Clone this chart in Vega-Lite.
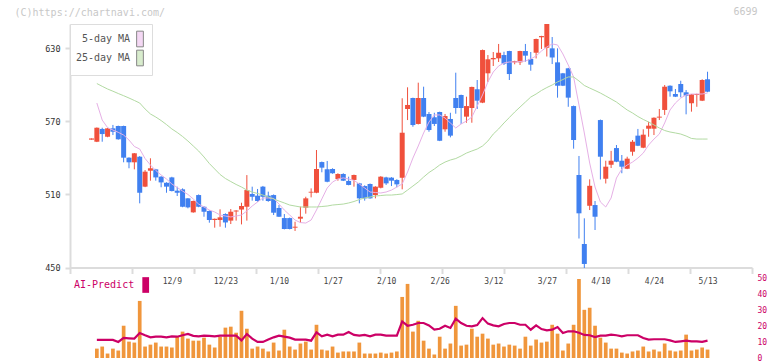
{
  "$schema": "https://vega.github.io/schema/vega-lite/v6.json",
  "width": 682,
  "height": 334.5,
  "autosize": {"type": "none"},
  "padding": {"left": 70, "top": 24, "right": 20, "bottom": 2.5},
  "background": "white",
  "config": {
    "view": {"stroke": null},
    "font": "DejaVu Sans Mono",
    "axis": {"labelFont": "DejaVu Sans Mono", "titleFont": "DejaVu Sans Mono", "domainColor": "#dcdcdc", "tickColor": "#dcdcdc", "domainWidth": 2, "tickWidth": 2, "grid": false},
    "legend": {"labelFont": "DejaVu Sans Mono"}
  },
  "datasets": {
    "d": [
      {"i":0,"o":555,"h":556,"l":555,"c":556},
      {"i":1,"o":553.3,"h":565,"l":553,"c":564.8,"v":5.9,"a":11.4,"m5":585.1,"m25":601.1},
      {"i":2,"o":563.8,"h":564.8,"l":553.3,"c":559.6,"v":7.2,"a":11.4,"m5":571.1,"m25":598.8},
      {"i":3,"o":557.4,"h":564.5,"l":557,"c":564.3,"v":2.8,"a":11.4,"m5":564.9,"m25":596.6},
      {"i":4,"o":564.3,"h":567.1,"l":558.8,"c":561.5,"v":5.9,"a":11.4,"m5":562.9,"m25":594.8},
      {"i":5,"o":566.2,"h":566.5,"l":555,"c":555.3,"v":4.7,"a":10.1,"m5":561,"m25":592.9},
      {"i":6,"o":566.2,"h":566.5,"l":536.4,"c":540.2,"v":20.3,"a":12.6,"m5":558.8,"m25":591.1},
      {"i":7,"o":540.2,"h":540.5,"l":531.5,"c":536.4,"v":10.3,"a":12.4,"m5":554.7,"m25":589.2},
      {"i":8,"o":536.4,"h":544,"l":530.6,"c":543.8,"v":9.7,"a":12.2,"m5":549.4,"m25":587.2},
      {"i":9,"o":541,"h":541.5,"l":502.7,"c":511.4,"v":35.9,"a":15.7,"m5":547.3,"m25":585.1},
      {"i":10,"o":516.4,"h":530,"l":516,"c":528.7,"v":7.2,"a":14.3,"m5":539.5,"m25":580.2},
      {"i":11,"o":529.5,"h":539.7,"l":521.3,"c":531.5,"v":8.4,"a":13.0,"m5":534.2,"m25":576.1},
      {"i":12,"o":530.6,"h":531,"l":521.3,"c":524,"v":9.7,"a":13.4,"m5":529.7,"m25":573.6},
      {"i":13,"o":524.6,"h":525,"l":515.9,"c":519.9,"v":7.2,"a":13.4,"m5":526,"m25":570.7},
      {"i":14,"o":519.6,"h":520,"l":511.4,"c":516.4,"v":7.2,"a":13.0,"m5":522.7,"m25":567.4},
      {"i":15,"o":524,"h":524.5,"l":512.5,"c":512.8,"v":6.6,"a":13.6,"m5":518.6,"m25":563.8},
      {"i":16,"o":513.1,"h":516.4,"l":508.7,"c":511.4,"v":13.4,"a":13.4,"m5":515.7,"m25":560.9},
      {"i":17,"o":514.2,"h":515,"l":499.5,"c":499.9,"v":16.6,"a":14.3,"m5":512.8,"m25":557.6},
      {"i":18,"o":506.8,"h":507,"l":498.6,"c":499.4,"v":12.2,"a":15.1,"m5":510,"m25":553.9},
      {"i":19,"o":495.3,"h":505,"l":495,"c":504.6,"v":10.9,"a":13.9,"m5":506.3,"m25":549.8},
      {"i":20,"o":509.5,"h":510,"l":499.5,"c":499.9,"v":10.9,"a":13.6,"m5":502.1,"m25":545.7},
      {"i":21,"o":499.9,"h":500.2,"l":491.7,"c":495.8,"v":12.8,"a":14.1,"m5":499.7,"m25":540.8},
      {"i":22,"o":496.4,"h":497,"l":486.8,"c":489,"v":8.4,"a":13.9,"m5":497.2,"m25":535.4},
      {"i":23,"o":489,"h":490.2,"l":482.7,"c":490,"v":6.6,"a":13.6,"m5":495.6,"m25":530.9},
      {"i":24,"o":489,"h":497.8,"l":483.5,"c":491.2,"v":13.4,"a":14.1,"m5":493.1,"m25":526.4},
      {"i":25,"o":493.9,"h":494.5,"l":482.7,"c":487,"v":19.1,"a":14.1,"m5":492.3,"m25":523.1},
      {"i":26,"o":488.5,"h":498,"l":485.7,"c":495.8,"v":19.7,"a":14.1,"m5":491.5,"m25":520.6},
      {"i":27,"o":496,"h":497,"l":488.5,"c":496.8,"v":15.9,"a":14.1,"m5":492.3,"m25":518.2},
      {"i":28,"o":497.6,"h":503.2,"l":485.4,"c":500.5,"v":29.7,"a":11.1,"m5":493.1,"m25":516.1},
      {"i":29,"o":499.9,"h":525.9,"l":488.5,"c":513.6,"v":18.4,"a":15.1,"m5":496.4,"m25":513.6},
      {"i":30,"o":510.4,"h":516.4,"l":504.9,"c":508.1,"v":5.9,"a":12.2,"m5":500.5,"m25":512},
      {"i":31,"o":509,"h":514.5,"l":504,"c":504.6,"v":7.2,"a":10.1,"m5":503.8,"m25":510.8},
      {"i":32,"o":516.4,"h":517,"l":504.9,"c":508.1,"v":5.9,"a":10.1,"m5":507.1,"m25":509.5},
      {"i":33,"o":509,"h":512.3,"l":504,"c":504.6,"v":4.1,"a":11.6,"m5":507.1,"m25":507.9},
      {"i":34,"o":509.5,"h":510,"l":493.1,"c":495,"v":9.7,"a":13.0,"m5":506.7,"m25":506.3},
      {"i":35,"o":498.9,"h":501.3,"l":491.5,"c":491.7,"v":4.7,"a":14.1,"m5":502.1,"m25":504.6},
      {"i":36,"o":490.6,"h":493.9,"l":481.3,"c":481.6,"v":17.8,"a":13.4,"m5":497.2,"m25":503},
      {"i":37,"o":490.6,"h":491,"l":481.3,"c":481.6,"v":7.2,"a":12.8,"m5":493.1,"m25":501.3},
      {"i":38,"o":482.7,"h":487.6,"l":480,"c":483.5,"v":5.3,"a":11.6,"m5":489,"m25":500.5},
      {"i":39,"o":490.1,"h":500,"l":486.8,"c":491.7,"v":9.1,"a":11.6,"m5":486.9,"m25":499.7},
      {"i":40,"o":499.1,"h":508.1,"l":494.2,"c":506.8,"v":10.3,"a":11.6,"m5":486.5,"m25":499.7},
      {"i":41,"o":511.5,"h":515,"l":507.6,"c":512.2,"v":5.3,"a":10.9,"m5":489,"m25":499.7},
      {"i":42,"o":511.4,"h":546.5,"l":511,"c":530.9,"v":20.9,"a":16.1,"m5":497.2,"m25":499.7},
      {"i":43,"o":536.6,"h":537,"l":528.2,"c":532,"v":5.3,"a":13.6,"m5":506.3,"m25":500.1},
      {"i":44,"o":530.6,"h":537.5,"l":520,"c":520.5,"v":4.7,"a":14.7,"m5":515.3,"m25":500.5},
      {"i":45,"o":530.9,"h":531.5,"l":527,"c":527.4,"v":7.2,"a":13.6,"m5":520.2,"m25":501.3},
      {"i":46,"o":522.7,"h":527.4,"l":521.3,"c":526.8,"v":3.4,"a":14.7,"m5":522.7,"m25":501.7},
      {"i":47,"o":526.8,"h":527.4,"l":521,"c":521.3,"v":4.1,"a":14.7,"m5":523.6,"m25":502.1},
      {"i":48,"o":521.1,"h":524.6,"l":517.5,"c":517.8,"v":4.1,"a":16.4,"m5":522.7,"m25":503},
      {"i":49,"o":521.9,"h":526.3,"l":516.4,"c":526,"v":4.1,"a":14.5,"m5":521.5,"m25":504.2},
      {"i":50,"o":519.1,"h":519.5,"l":502.7,"c":506.8,"v":9.7,"a":14.1,"m5":518.6,"m25":505.8},
      {"i":51,"o":516.9,"h":517.5,"l":504.9,"c":506.8,"v":2.8,"a":14.5,"m5":515.3,"m25":507.1},
      {"i":52,"o":518.6,"h":519,"l":506.5,"c":506.8,"v":2.8,"a":13.6,"m5":512,"m25":507.9},
      {"i":53,"o":509.5,"h":516.7,"l":506.8,"c":516.4,"v":2.8,"a":14.7,"m5":511.6,"m25":508.7},
      {"i":54,"o":515.5,"h":525,"l":515,"c":524.6,"v":3.4,"a":14.7,"m5":511.2,"m25":509.1},
      {"i":55,"o":524,"h":524.5,"l":517.8,"c":519.1,"v":2.8,"a":14.1,"m5":512,"m25":509.5},
      {"i":56,"o":523.8,"h":524.2,"l":516.9,"c":521.3,"v":3.4,"a":14.1,"m5":513.6,"m25":509.5},
      {"i":57,"o":521.9,"h":522.5,"l":515.9,"c":518.3,"v":4.1,"a":14.1,"m5":516.1,"m25":509.9},
      {"i":58,"o":523.7,"h":589,"l":514.2,"c":560.7,"v":38.4,"a":23.0,"m5":518.6,"m25":510.4},
      {"i":59,"o":580.2,"h":598,"l":571.1,"c":583.5,"v":46.6,"a":20.3,"m5":528.4,"m25":513.6},
      {"i":60,"o":589.2,"h":589.5,"l":565.6,"c":567,"v":16.6,"a":20.9,"m5":539.9,"m25":516.9},
      {"i":61,"o":567.9,"h":601.8,"l":567.5,"c":589.2,"v":23.4,"a":22.0,"m5":549.8,"m25":520.2},
      {"i":62,"o":589.2,"h":598.5,"l":573.5,"c":573.9,"v":10.9,"a":22.0,"m5":560.5,"m25":524.3},
      {"i":63,"o":576.1,"h":577.7,"l":561.5,"c":562.9,"v":5.9,"a":20.5,"m5":569.5,"m25":528},
      {"i":64,"o":573.4,"h":577.1,"l":566.2,"c":567.9,"v":2.2,"a":17.8,"m5":575.3,"m25":530.9},
      {"i":65,"o":577.7,"h":578,"l":553.8,"c":554.1,"v":13.4,"a":18.4,"m5":575.3,"m25":534.2},
      {"i":66,"o":563.5,"h":576.1,"l":561.5,"c":574.4,"v":5.9,"a":20.3,"m5":572.8,"m25":536.6},
      {"i":67,"o":572,"h":577.1,"l":556.9,"c":558.3,"v":9.1,"a":18.9,"m5":568.7,"m25":538.3},
      {"i":68,"o":589.2,"h":610,"l":576.3,"c":581,"v":32.8,"a":24.7,"m5":564.6,"m25":539.5},
      {"i":69,"o":591.7,"h":592,"l":567.9,"c":581,"v":7.8,"a":22.0,"m5":567.9,"m25":541.6},
      {"i":70,"o":573.9,"h":590.3,"l":568.9,"c":582.6,"v":8.4,"a":20.3,"m5":570.3,"m25":544},
      {"i":71,"o":581,"h":598.5,"l":568.9,"c":598.3,"v":18.4,"a":19.9,"m5":573.6,"m25":545.7},
      {"i":72,"o":596.4,"h":604,"l":580.2,"c":587,"v":13.4,"a":20.7,"m5":582.6,"m25":547.3},
      {"i":73,"o":585.4,"h":629,"l":585,"c":628.6,"v":15.3,"a":25.1,"m5":591.7,"m25":549.8},
      {"i":74,"o":609.5,"h":624.5,"l":602.4,"c":621,"v":12.2,"a":21.6,"m5":602.4,"m25":553.9},
      {"i":75,"o":621,"h":627,"l":615.5,"c":622.1,"v":8.4,"a":20.5,"m5":610.6,"m25":559.6},
      {"i":76,"o":621.8,"h":633.6,"l":618.8,"c":626.4,"v":9.1,"a":19.9,"m5":615.5,"m25":563.8},
      {"i":77,"o":624.5,"h":627.2,"l":616.3,"c":617.4,"v":7.2,"a":21.4,"m5":618,"m25":568.7},
      {"i":78,"o":627.8,"h":628,"l":604,"c":608.9,"v":8.4,"a":22.0,"m5":618.8,"m25":573.2},
      {"i":79,"o":618.5,"h":619.8,"l":616.9,"c":619.6,"v":7.8,"a":22.0,"m5":618.8,"m25":577.7},
      {"i":80,"o":618.5,"h":628,"l":616.3,"c":627.8,"v":5.9,"a":20.9,"m5":619.2,"m25":581.8},
      {"i":81,"o":627.8,"h":633.6,"l":619,"c":624,"v":13.4,"a":20.9,"m5":619.6,"m25":585.9},
      {"i":82,"o":621.3,"h":627,"l":611.6,"c":616.6,"v":7.8,"a":17.8,"m5":621.3,"m25":590},
      {"i":83,"o":626.4,"h":638,"l":621.7,"c":637.7,"v":11.6,"a":20.5,"m5":623.7,"m25":592.5},
      {"i":84,"o":639.1,"h":640.3,"l":629.5,"c":640.1,"v":9.7,"a":18.2,"m5":627.8,"m25":595.4},
      {"i":85,"o":630.5,"h":650,"l":623.3,"c":650,"v":10.3,"a":17.4,"m5":631.1,"m25":597.8},
      {"i":86,"o":630,"h":639.3,"l":617.1,"c":622.5,"v":20.9,"a":17.8,"m5":633.6,"m25":599.9},
      {"i":87,"o":618.5,"h":630,"l":589.5,"c":599.3,"v":15.3,"a":19.5,"m5":632.8,"m25":602.4},
      {"i":88,"o":609.5,"h":609.8,"l":599,"c":599.3,"v":4.7,"a":15.7,"m5":625.4,"m25":604.4},
      {"i":89,"o":613.6,"h":614,"l":582,"c":589.5,"v":9.1,"a":16.8,"m5":616.3,"m25":606.5},
      {"i":90,"o":582.6,"h":583,"l":547.6,"c":554.7,"v":20.9,"a":16.8,"m5":606.5,"m25":606.5},
      {"i":91,"o":526,"h":541.6,"l":473.8,"c":494.5,"v":49.7,"a":15.9,"m5":583.5,"m25":603.2},
      {"i":92,"o":469.3,"h":490.4,"l":449.6,"c":452.9,"v":30.3,"a":14.5,"m5":560.5,"m25":599.5},
      {"i":93,"o":500.7,"h":522.4,"l":497.2,"c":517.1,"v":31.6,"a":14.3,"m5":535.8,"m25":597.4},
      {"i":94,"o":501.3,"h":504.6,"l":480.8,"c":491.7,"v":20.3,"a":13.2,"m5":516.1,"m25":595.4},
      {"i":95,"o":571.1,"h":571.5,"l":522.3,"c":541,"v":12.8,"a":14.1,"m5":503.8,"m25":593.3},
      {"i":96,"o":522.9,"h":537.7,"l":519,"c":532.8,"v":9.7,"a":14.1,"m5":499.7,"m25":590.9},
      {"i":97,"o":534.4,"h":545.8,"l":531.7,"c":537.7,"v":5.9,"a":14.7,"m5":507.1,"m25":588.4},
      {"i":98,"o":548.1,"h":550.6,"l":536.5,"c":536.9,"v":5.9,"a":14.3,"m5":523.5,"m25":585.9},
      {"i":99,"o":537.7,"h":542.4,"l":527.4,"c":532.8,"v":3.4,"a":13.6,"m5":530.9,"m25":582.6},
      {"i":100,"o":531.1,"h":541,"l":530.8,"c":539.4,"v":2.8,"a":14.3,"m5":534.2,"m25":579.4},
      {"i":101,"o":545.1,"h":554.7,"l":541.8,"c":553.3,"v":4.1,"a":14.3,"m5":536.6,"m25":576.9},
      {"i":102,"o":558.3,"h":563.8,"l":549.7,"c":550,"v":4.7,"a":14.3,"m5":539.9,"m25":574},
      {"i":103,"o":548.4,"h":563.5,"l":548,"c":559.1,"v":7.2,"a":12.6,"m5":544,"m25":571.6},
      {"i":104,"o":564,"h":569.7,"l":557.4,"c":566.5,"v":4.1,"a":11.6,"m5":550.6,"m25":569.5},
      {"i":105,"o":564,"h":573.3,"l":558.8,"c":573,"v":5.3,"a":11.8,"m5":555.5,"m25":567.1},
      {"i":106,"o":573.1,"h":580.2,"l":571.1,"c":573.9,"v":4.1,"a":11.8,"m5":559.6,"m25":564.6},
      {"i":107,"o":579.4,"h":599.9,"l":575.3,"c":598.5,"v":9.1,"a":11.8,"m5":568.7,"m25":562.5},
      {"i":108,"o":599.3,"h":599.6,"l":590.3,"c":594.7,"v":4.7,"a":11.1,"m5":579.4,"m25":561.3},
      {"i":109,"o":592.5,"h":596.6,"l":590,"c":590.3,"v":4.1,"a":10.1,"m5":585.1,"m25":560.5},
      {"i":110,"o":600.7,"h":603.4,"l":589.8,"c":593.9,"v":4.7,"a":10.5,"m5":589.2,"m25":559.6},
      {"i":111,"o":593.9,"h":595.8,"l":575.8,"c":591.1,"v":14.7,"a":10.9,"m5":591.7,"m25":558},
      {"i":112,"o":584.9,"h":592.5,"l":578,"c":592.3,"v":4.7,"a":10.5,"m5":592.5,"m25":556},
      {"i":113,"o":591.7,"h":592.8,"l":582,"c":592.5,"v":5.3,"a":10.5,"m5":592.5,"m25":555.5},
      {"i":114,"o":587,"h":604.6,"l":586.7,"c":604,"v":6.6,"a":10.1,"m5":592.5,"m25":555.5},
      {"i":115,"o":604.6,"h":610.8,"l":594,"c":594.4,"v":5.3,"a":10.9,"m5":593.3,"m25":555.5}
    ]
  },
  "data": {"name": "d"},
  "encoding": {
    "x": {"field": "i", "type": "quantitative", "scale": {"domain": [-4.013, 123.301], "nice": false, "zero": false, "padding": 0}, "axis": null}
  },
  "layer": [
    {
      "mark": {"type": "rule", "strokeWidth": 1},
      "encoding": {
        "x": {"field": "i", "type": "quantitative", "scale": {"domain": [-4.013, 123.301], "nice": false, "zero": false, "padding": 0},
          "axis": {"orient": "bottom", "offset": -91, "values": [-4.013, 7.561, 19.135, 30.709, 42.283, 53.857, 65.431, 77.005, 88.579, 100.153, 111.727, 123.301], "labels": false, "tickSize": 6,
            "title": "6699", "titleX": 687, "titleY": -255.8, "titleAlign": "right", "titleBaseline": "middle", "titleAngle": 0, "titleColor": "#c8c8c8", "titleFontSize": 10, "titleFontWeight": "normal"}},
        "y": {"field": "l", "type": "quantitative", "scale": {"domain": [450, 650], "range": [243.5, 0], "nice": false, "zero": false},
          "axis": {"values": [450, 510, 570, 630], "tickSize": 5, "labelPadding": 5, "labelFontSize": 8.5, "labelColor": "#333333",
            "title": "(C)https://chartnavi.com/", "titleX": -56, "titleY": -11.8, "titleAngle": 0, "titleAlign": "left", "titleBaseline": "middle", "titleColor": "#c8c8c8", "titleFontSize": 10, "titleFontWeight": "normal"}},
        "y2": {"field": "h"},
        "color": {"condition": {"test": "datum.c >= datum.o", "value": "#f0503c"}, "value": "#4080f0"}
      }
    },
    {
      "mark": {"type": "bar", "width": 5},
      "encoding": {
        "y": {"field": "o", "type": "quantitative", "scale": {"domain": [450, 650], "range": [243.5, 0], "nice": false, "zero": false}, "axis": null},
        "y2": {"field": "c"},
        "color": {"condition": {"test": "datum.c >= datum.o", "value": "#f0503c"}, "value": "#4080f0"}
      }
    },
    {
      "transform": [{"fold": ["m5", "m25"], "as": ["s", "mv"]}],
      "mark": {"type": "line", "strokeWidth": 1},
      "encoding": {
        "y": {"field": "mv", "type": "quantitative", "scale": {"domain": [450, 650], "range": [243.5, 0], "nice": false, "zero": false}, "axis": null},
        "stroke": {"field": "s", "type": "nominal", "scale": {"domain": ["m5", "m25"], "range": ["#e6b0e6", "#b2daa2"]}, "legend": null}
      }
    },
    {
      "transform": [{"filter": "datum.i < 0"}],
      "mark": {"type": "square"},
      "encoding": {
        "fill": {"field": "s", "type": "nominal", "scale": {"domain": ["5-day MA", "25-day MA"], "range": ["#f0c8f0", "#c8e4b8"]},
          "legend": {"title": null, "orient": "none", "legendX": 0, "legendY": 0, "padding": 6.5, "fillColor": "white", "strokeColor": "#dddddd",
            "symbolType": "M-0.43,-1H0.43V1H-0.43Z", "symbolSize": 246, "symbolStrokeColor": "#555555", "symbolStrokeWidth": 1, "symbolOffset": 55,
            "labelAlign": "right", "labelOffset": -18.4, "labelFontSize": 10, "labelColor": "#555555", "rowPadding": -4, "labelLimit": 200,
            "encode": {"symbols": {"update": {"stroke": {"value": "#555555"}, "strokeWidth": {"value": 1}, "opacity": {"value": 1}}}}}}
      }
    },
    {
      "mark": {"type": "bar", "width": 3.7, "color": "#f0963c"},
      "encoding": {
        "x": {"field": "i", "type": "quantitative", "scale": {"domain": [-4.013, 123.301], "nice": false, "zero": false, "padding": 0},
          "axis": {"orient": "bottom", "offset": -83, "values": [15, 25, 35, 45, 55, 65, 75, 85, 95, 105, 115], "domain": false, "ticks": false, "tickSize": 0, "labelPadding": 2, "labelFontSize": 8, "labelColor": "#444444", "title": null,
            "labelExpr": "datum.value==15?'12/9':datum.value==25?'12/23':datum.value==35?'1/10':datum.value==45?'1/27':datum.value==55?'2/10':datum.value==65?'2/26':datum.value==75?'3/12':datum.value==85?'3/27':datum.value==95?'4/10':datum.value==105?'4/24':'5/13'"}},
        "y": {"field": "v", "type": "quantitative", "scale": {"domain": [0, 50], "range": [334, 254.5], "nice": false, "zero": false},
          "axis": {"orient": "right", "values": [0, 10, 20, 30, 40, 50], "domain": false, "ticks": false, "labelPadding": 5, "labelColor": "#cc0066", "labelFontSize": 8, "title": null}}
      }
    },
    {
      "mark": {"type": "line", "color": "#cc0066", "strokeWidth": 2.2},
      "encoding": {
        "y": {"field": "a", "type": "quantitative", "scale": {"domain": [0, 50], "range": [334, 254.5], "nice": false, "zero": false}, "axis": null}
      }
    },
    {
      "transform": [{"filter": "datum.i < 0"}],
      "mark": {"type": "point", "filled": true, "color": "#cc0066", "opacity": 1},
      "encoding": {
        "shape": {"field": "s", "type": "nominal", "scale": {"domain": ["AI-Predict"], "range": ["M-0.43,-1H0.43V1H-0.43Z"]},
          "legend": {"title": null, "orient": "none", "legendX": 6, "legendY": 253, "padding": 0, "symbolSize": 246,
            "symbolFillColor": "#cc0066", "symbolStrokeWidth": 0, "symbolOpacity": 1, "symbolOffset": 61.7, "labelAlign": "right", "labelOffset": -19.5,
            "labelFontSize": 10, "labelColor": "#cc0066", "labelLimit": 200,
            "encode": {"symbols": {"update": {"fill": {"value": "#cc0066"}, "fillOpacity": {"value": 1}, "stroke": {"value": "transparent"}, "opacity": {"value": 1}}}}}}
      }
    }
  ],
  "resolve": {"scale": {"y": "independent"}, "axis": {"x": "independent", "y": "independent"}}
}
